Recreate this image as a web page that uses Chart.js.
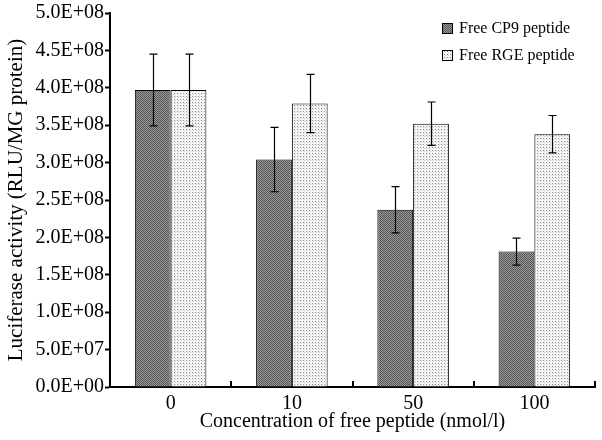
<!DOCTYPE html>
<html>
<head>
<meta charset="utf-8">
<script src="https://cdn.jsdelivr.net/npm/chart.js@4"></script>
<style>
  html, body { margin: 0; padding: 0; background: #fff; }
  #wrap { width: 602px; height: 440px; }
</style>
</head>
<body>
<div id="wrap"><canvas id="myBarChart" width="602" height="440"></canvas></div>
<script>
// du lieu doc tu hinh
var categories = ["0", "10", "50", "100"];
var cp9Values = [3.97e8, 3.04e8, 2.37e8, 1.81e8];
var cp9Errors = [0.48e8, 0.43e8, 0.31e8, 0.18e8];
var rgeValues = [3.97e8, 3.79e8, 3.52e8, 3.38e8];
var rgeErrors = [0.48e8, 0.39e8, 0.29e8, 0.25e8];
var seriesNames = ["Free CP9 peptide", "Free RGE peptide"];
var yTicks = [0, 5e7, 1e8, 1.5e8, 2e8, 2.5e8, 3e8, 3.5e8, 4e8, 4.5e8, 5e8];

var FONT = "'Liberation Serif', 'Times New Roman', serif";

/* tao mau hoa van cho cot */
function makePattern(kind) {
  var c = document.createElement("canvas");
  var g = c.getContext("2d");
  if (kind === "dark") {
    c.width = 2; c.height = 2;
    g.fillStyle = "#9a9a9a"; g.fillRect(0, 0, 2, 2);
    g.fillStyle = "#555555"; g.fillRect(0, 0, 1, 1); g.fillRect(1, 1, 1, 1);
  } else {
    c.width = 3; c.height = 3;
    g.fillStyle = "#f6f6f6"; g.fillRect(0, 0, 3, 3);
    g.fillStyle = "#8a8a8a"; g.fillRect(0, 0, 1, 1);
    g.fillStyle = "#cfcfcf"; g.fillRect(1, 1, 1, 1);
  }
  return g.createPattern(c, "repeat");
}
var darkFill = makePattern("dark");
var lightFill = makePattern("light");

/* ve thanh sai so */
var errorBarPlugin = {
  id: "errorBars",
  afterDatasetsDraw: function (chart) {
    var ctx = chart.ctx;
    var y = chart.scales.y;
    var errs = [cp9Errors, rgeErrors];
    ctx.save();
    ctx.strokeStyle = "#000";
    ctx.lineWidth = 1.2;
    chart.data.datasets.forEach(function (ds, i) {
      var meta = chart.getDatasetMeta(i);
      meta.data.forEach(function (bar, j) {
        var v = ds.data[j];
        var top = y.getPixelForValue(v + errs[i][j]);
        var bot = y.getPixelForValue(v - errs[i][j]);
        var x = Math.round(bar.x) + 0.5;
        ctx.beginPath();
        ctx.moveTo(x, top); ctx.lineTo(x, bot);
        ctx.moveTo(x - 4, top); ctx.lineTo(x + 4, top);
        ctx.moveTo(x - 4, bot); ctx.lineTo(x + 4, bot);
        ctx.stroke();
      });
    });
    ctx.restore();
  }
};

/* truc x: vach chia huong len tai ranh gioi nhom */
var xTickPlugin = {
  id: "xTicksUp",
  afterDraw: function (chart) {
    var ctx = chart.ctx;
    var x = chart.scales.x;
    var area = chart.chartArea;
    ctx.save();
    ctx.strokeStyle = "#000";
    ctx.lineWidth = 2;
    for (var i = 0; i < categories.length; i++) {
      var px = Math.round(x.getPixelForValue(i) + x.width / categories.length / 2);
      ctx.beginPath();
      ctx.moveTo(px, area.bottom);
      ctx.lineTo(px, area.bottom - 6);
      ctx.stroke();
    }
    ctx.restore();
  }
};

/* chu giai trong vung bieu do */
var legendPlugin = {
  id: "boxLegend",
  afterDraw: function (chart) {
    var ctx = chart.ctx;
    var fills = [darkFill, lightFill];
    ctx.save();
    ctx.font = "16px " + FONT;
    ctx.textBaseline = "middle";
    seriesNames.forEach(function (name, i) {
      var bx = 442, by = 23 + i * 27;
      ctx.fillStyle = fills[i];
      ctx.fillRect(bx, by, 10, 10);
      ctx.strokeStyle = "#000";
      ctx.lineWidth = 1;
      ctx.strokeRect(bx + 0.5, by + 0.5, 10, 10);
      ctx.fillStyle = "#000";
      ctx.fillText(name, 459, by + 6);
    });
    ctx.restore();
  }
};

var ctx = document.getElementById("myBarChart").getContext("2d");
var myBarChart = new Chart(ctx, {
  type: "bar",
  data: {
    labels: categories,
    datasets: [
      {
        label: seriesNames[0],
        data: cp9Values,
        backgroundColor: darkFill,
        borderColor: "#000",
        borderWidth: 1,
        borderSkipped: "bottom",
      },
      {
        label: seriesNames[1],
        data: rgeValues,
        backgroundColor: lightFill,
        borderColor: "#000",
        borderWidth: 1,
        borderSkipped: "bottom",
      },
    ],
  },
  options: {
    responsive: false,
    animation: false,
    events: [],
    layout: { padding: { top: 12, right: 7, left: 0, bottom: 0 } },
    datasets: { bar: { categoryPercentage: 0.59, barPercentage: 1 } },
    plugins: {
      legend: { display: false },
      tooltip: { enabled: false },
    },
    scales: {
      x: {
        grid: { display: false },
        border: { color: "#000", width: 2 },
        ticks: { color: "#000", font: { family: FONT, size: 20 }, padding: -3 },
        title: {
          display: true,
          text: "Concentration of free peptide (nmol/l)",
          color: "#000",
          font: { family: FONT, size: 20 },
          padding: { top: 0, bottom: 6 },
        },
        afterFit: function (scale) { scale.height = 53; },
      },
      y: {
        min: 0,
        max: 5e8,
        afterBuildTicks: function (scale) {
          scale.ticks = yTicks.map(function (v) { return { value: v }; });
        },
        grid: { drawOnChartArea: false, tickLength: 5, color: "#000", tickWidth: 2 },
        border: { color: "#000", width: 2 },
        ticks: {
          color: "#000",
          font: { family: FONT, size: 20 },
          padding: 1,
          callback: function (v) {
            var e = v === 0 ? 0 : Math.floor(Math.log10(v) + 1e-9);
            var m = v === 0 ? 0 : v / Math.pow(10, e);
            return m.toFixed(1) + "E+" + (e < 10 ? "0" + e : e);
          },
        },
        title: {
          display: true,
          text: "Luciferase activity (RLU/MG protein)",
          color: "#000",
          font: { family: FONT, size: 21 },
          padding: { top: 4, bottom: 0 },
        },
        afterFit: function (scale) { scale.width = 110; },
      },
    },
  },
  plugins: [errorBarPlugin, xTickPlugin, legendPlugin],
});
</script>
</body>
</html>
